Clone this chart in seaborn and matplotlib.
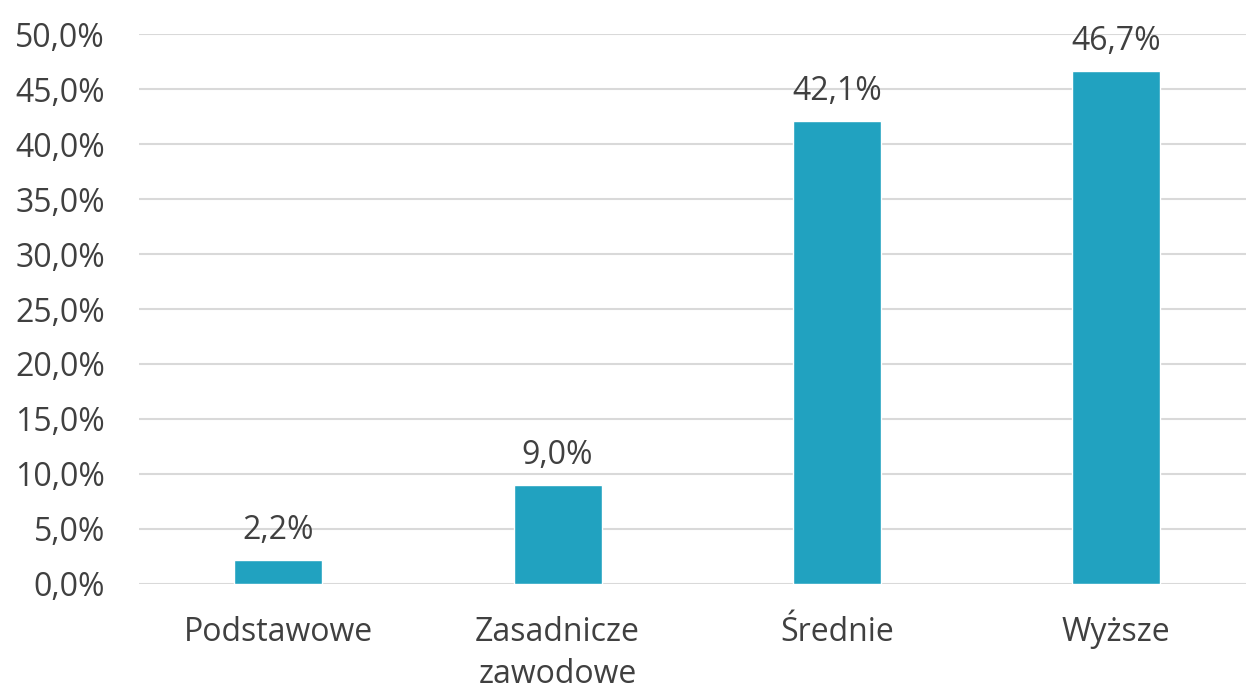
import seaborn as sns
import pandas as pd
from matplotlib import pyplot as plt
from matplotlib.ticker import FuncFormatter, MultipleLocator

categories = ["Podstawowe", "Zasadnicze\nzawodowe", "Średnie", "Wyższe"]
shares = [2.2, 9.0, 42.1, 46.7]

df = pd.DataFrame({"kategoria": categories, "udzial": shares})

sns.set_theme(style="white")
plt.rcParams["font.family"] = ["Open Sans", "DejaVu Sans"]
text_color = "#404040"
bar_color = "#21A2C0"

fig = plt.figure(figsize=(12.46, 6.87), dpi=100)
ax = fig.add_axes([138.5 / 1246, 0.1504, (1256 - 138.5) / 1246, 0.7996])

sns.barplot(data=df, x="kategoria", y="udzial", color=bar_color,
            width=0.315, saturation=1, ax=ax)

ax.set_xlim(-0.5, 3.5)
ax.set_ylim(0, 50)
ax.yaxis.set_major_locator(MultipleLocator(5))
ax.yaxis.set_major_formatter(FuncFormatter(lambda v, p: f"{v:.1f}%".replace(".", ",")))
ax.grid(axis="y", color="#D9D9D9", linewidth=1.5)
ax.set_axisbelow(True)
for s in ax.spines.values():
    s.set_visible(False)

ax.set_xlabel("")
ax.set_ylabel("")
ax.tick_params(axis="y", length=0, pad=24, labelsize=23, labelcolor=text_color)
ax.tick_params(axis="x", length=0, pad=23, labelsize=23, labelcolor=text_color)
for lbl in ax.get_xticklabels():
    lbl.set_linespacing(1.38)

for i, v in enumerate(shares):
    ax.annotate(f"{v:.1f}%".replace(".", ","), (i, v), xytext=(0, 15),
                textcoords="offset points", ha="center", va="baseline",
                fontsize=23, color=text_color)

fig.savefig("out.png", dpi=100)
